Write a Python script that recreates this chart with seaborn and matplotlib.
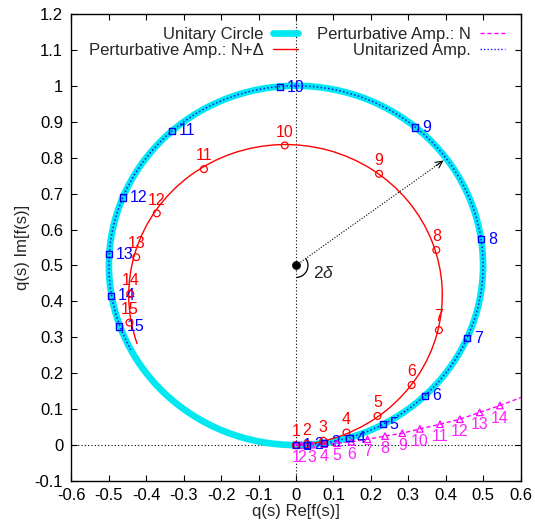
import numpy as np
import seaborn as sns
import matplotlib
matplotlib.use("Agg")
import matplotlib.pyplot as plt
from matplotlib.patches import Arc
from matplotlib.lines import Line2D
from matplotlib.ticker import MultipleLocator, FuncFormatter

# Unitarized amplitude, points 1..15 (they sit on the unitary circle)
unit_x = [0.000, 0.029, 0.075, 0.143, 0.232, 0.345, 0.457, 0.494,
          0.318, -0.043, -0.331, -0.463, -0.499, -0.494, -0.472]
unit_y = [0.000, 0.001, 0.006, 0.019, 0.058, 0.137, 0.297, 0.573,
          0.884, 0.996, 0.875, 0.689, 0.531, 0.415, 0.330]

# Perturbative amplitude N+Delta, points 1..15
nd_x = [0.000, 0.029, 0.073, 0.135, 0.218, 0.309, 0.382, 0.375,
        0.222, -0.030, -0.246, -0.372, -0.427, -0.443, -0.445]
nd_y = [0.000, 0.003, 0.012, 0.035, 0.081, 0.167, 0.320, 0.543,
        0.755, 0.834, 0.768, 0.645, 0.523, 0.421, 0.341]

# Perturbative amplitude N, points 1..14 (line goes on past the frame)
n_x = [0.000, 0.014, 0.042, 0.075, 0.110, 0.148, 0.191, 0.238,
       0.284, 0.331, 0.385, 0.438, 0.491, 0.545]
n_y = [0.000, 0.0001, 0.001, 0.0025, 0.005, 0.009, 0.016, 0.025,
       0.033, 0.045, 0.058, 0.072, 0.091, 0.110]
n_line_x = n_x + [0.610]
n_line_y = n_y + [0.136]

# circles (center, radius, drawn span in degrees)
unit_center = (0.0, 0.5)
unit_radius = 0.5
unit_span = (-90, 208)
nd_center = (-0.028, 0.4175)
nd_radius = 0.419
nd_span = (-86, 199)

arrow_tip = (0.394, 0.792)
delta_span = (-90, 36)

sns.set_theme(style="ticks")
plt.rcParams["font.family"] = ["Liberation Sans", "DejaVu Sans"]
plt.rcParams["mathtext.fontset"] = "custom"
plt.rcParams["mathtext.it"] = "Liberation Sans:italic"

fig = plt.figure(figsize=(5.35, 5.21), dpi=100)
ax = fig.add_axes([0.1336, 0.0768, 0.8393, 0.8964])

# dotted zero lines
ax.axvline(0, color="black", lw=0.8, ls=(0, (1, 2)), zorder=1)
ax.axhline(0, color="black", lw=0.8, ls=(0, (1, 2)), zorder=1)

# unitary circle + unitarized curve on it
ax.add_patch(Arc(unit_center, 2 * unit_radius, 2 * unit_radius, theta1=0, theta2=360,
                 color="#00e8f0", lw=4.8, zorder=2))
ax.add_patch(Arc(unit_center, 2 * unit_radius, 2 * unit_radius,
                 theta1=unit_span[0], theta2=unit_span[1],
                 color="#1010ff", lw=1.1, ls=(0, (1, 1.5)), zorder=3))

# perturbative N+Delta curve
ax.add_patch(Arc(nd_center, 2 * nd_radius, 2 * nd_radius,
                 theta1=nd_span[0], theta2=nd_span[1], color="red", lw=1.0, zorder=3))

# perturbative N curve
sns.lineplot(x=n_line_x, y=n_line_y, sort=False, estimator=None, ax=ax,
             color="magenta", lw=1.0, linestyle=(0, (3, 2)), zorder=3)

# markers
sns.scatterplot(x=n_x, y=n_y, marker="^", s=22, facecolor="none", edgecolor="magenta",
                linewidth=0.9, ax=ax, zorder=5)
sns.scatterplot(x=nd_x, y=nd_y, marker="o", s=24, facecolor="none", edgecolor="red",
                linewidth=0.9, ax=ax, zorder=5)
sns.scatterplot(x=unit_x, y=unit_y, marker="s", s=20, facecolor="none", edgecolor="blue",
                linewidth=1.0, ax=ax, zorder=6)

# point numbers
lab_size = 11.5
for i, (x, y) in enumerate(zip(n_x, n_y)):
    ax.annotate(str(i + 1), (x, y), xytext=(0, -9), textcoords="offset points",
                ha="center", va="center", color="#ff22ff", fontsize=lab_size, zorder=4)
for i, (x, y) in enumerate(zip(nd_x, nd_y)):
    ax.annotate(str(i + 1), (x, y), xytext=(0, 9.5), textcoords="offset points",
                ha="center", va="center", color="red", fontsize=lab_size, zorder=4)
for i, (x, y) in enumerate(zip(unit_x, unit_y)):
    ax.annotate(str(i + 1), (x, y), xytext=(5, 0), textcoords="offset points",
                ha="left", va="center", color="blue", fontsize=lab_size, zorder=4)

# centre dot, radius arrow and 2 delta angle
ax.scatter([unit_center[0]], [unit_center[1]], s=28, color="black", zorder=7)
ax.plot([unit_center[0], arrow_tip[0]], [unit_center[1], arrow_tip[1]],
        color="black", lw=0.8, ls=(0, (1, 1.5)), zorder=4)
d = np.subtract(arrow_tip, unit_center)
ax.annotate("", xy=arrow_tip, xytext=tuple(np.subtract(arrow_tip, 0.05 * d)),
            arrowprops=dict(arrowstyle="->", lw=0.8, color="black",
                            mutation_scale=12, shrinkA=0, shrinkB=0), zorder=4)
ax.add_patch(Arc(unit_center, 0.064, 0.067, theta1=delta_span[0], theta2=delta_span[1],
                 color="black", lw=0.9, zorder=4))
ax.text(0.075, 0.478, r"2$\delta$", fontsize=12.5, ha="center", va="center")

# axes styling
ax.set_xlim(-0.6, 0.6)
ax.set_ylim(-0.1, 1.2)
ax.xaxis.set_major_locator(MultipleLocator(0.1))
ax.yaxis.set_major_locator(MultipleLocator(0.1))
fmt = FuncFormatter(lambda v, p: f"{round(v, 2):g}" if abs(v) > 1e-9 else "0")
ax.xaxis.set_major_formatter(fmt)
ax.yaxis.set_major_formatter(fmt)
ax.tick_params(direction="in", top=True, right=True, length=4.5, width=0.8,
               labelsize=12, colors="black")
ax.tick_params(axis="x", pad=5)
ax.tick_params(axis="y", pad=6)
for s in ax.spines.values():
    s.set_linewidth(1.0)
    s.set_color("black")
ax.set_xlabel("q(s) Re[f(s)]", fontsize=12, labelpad=1)
ax.set_ylabel("q(s) Im[f(s)]", fontsize=12, labelpad=3)

handles = [
    Line2D([], [], color="#00e8f0", lw=4.8),
    Line2D([], [], color="red", lw=1.0),
    Line2D([], [], color="magenta", lw=1.0, ls=(0, (3, 2))),
    Line2D([], [], color="#1010ff", lw=1.0, ls=(0, (1, 1.5))),
]
labels = ["Unitary Circle", "Perturbative Amp.: N+\u0394",
          "Perturbative Amp.: N", "Unitarized Amp."]
ax.legend(handles, labels, ncol=2, markerfirst=False, frameon=False,
          loc="upper right", bbox_to_anchor=(0.984, 0.99), borderpad=0,
          handlelength=1.5, handletextpad=0.55, columnspacing=1.15,
          labelspacing=0.08, fontsize=12)

fig.savefig("out.png", dpi=100)
